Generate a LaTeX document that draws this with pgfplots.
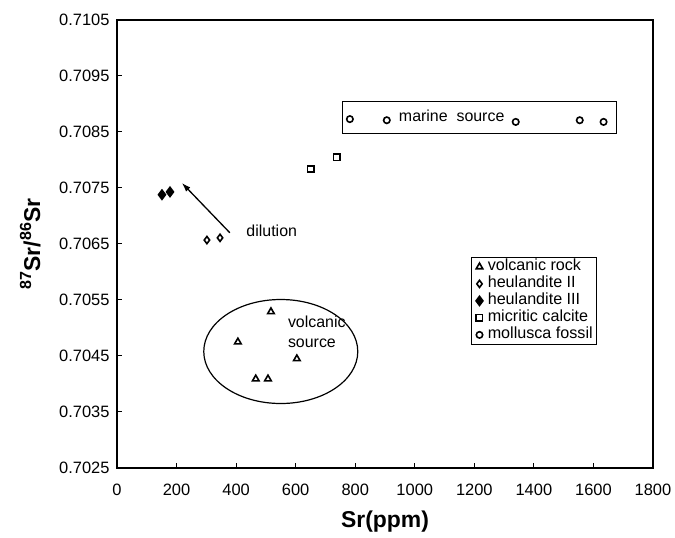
\documentclass[border=0pt]{standalone}
\usepackage{fontspec}
\setmainfont{Liberation Sans}
\usepackage{pgfplots}
\pgfplotsset{compat=1.18}
\usetikzlibrary{calc,arrows.meta}

\begin{document}
\begin{tikzpicture}
\begin{axis}[
    scale only axis,
    width=536bp, height=448bp,
    xmin=0, xmax=1800,
    ymin=0.7025, ymax=0.7105,
    xtick={0,200,...,1800},
    ytick={0.7025,0.7035,0.7045,0.7055,0.7065,0.7075,0.7085,0.7095,0.7105},
    scaled y ticks=false,
    tick align=inside,
    xtick pos=left, ytick pos=left,
    major tick length=5bp,
    tick style={line width=1bp, black},
    axis line style={line width=1.5bp},
    /pgf/number format/assume math mode=true,
    ticklabel style={font=\fontsize{16.5}{19}\selectfont},
    y tick label style={/pgf/number format/fixed, /pgf/number format/fixed zerofill,
        /pgf/number format/precision=4, xshift=-4bp},
    x tick label style={/pgf/number format/1000 sep={}, yshift=-13bp},
    xlabel={Sr(ppm)},
    ylabel={\textsuperscript{87}Sr/\textsuperscript{86}Sr},
    xlabel style={font=\fontsize{23}{27}\selectfont\bfseries,
        at={(axis description cs:0.5,-0.1205)}, anchor=center},
    ylabel style={font=\fontsize{23}{27}\selectfont\bfseries,
        at={(axis description cs:-0.162,0.5)}, anchor=center},
    legend style={at={(rel axis cs:0.661,0.471)}, anchor=north west,
        draw=black, line width=0.8bp,
        font=\fontsize{16.2}{17}\selectfont,
        inner xsep=2bp, inner ysep=1bp, row sep=0bp, column sep=2bp,
        nodes={inner sep=1.5bp, text height=11bp, text depth=3bp}},
    legend cell align=left,
    legend image code/.code={\draw[#1] plot coordinates {(5bp,0bp)}; \path (0bp,0bp) (9bp,0bp);},
    every axis plot/.append style={only marks, line width=1.6bp, mark options={solid, black}},
]
% volcanic rock
\addplot[mark=triangle, mark size=3.8bp] coordinates {
    (406,0.70475) (466,0.70409) (507,0.70409) (517,0.70529) (604,0.70445)
};
\addlegendentry{volcanic rock}
% heulandite II
\addplot[mark=diamond, mark size=3.6bp] coordinates {
    (302,0.70657) (346,0.70661)
};
\addlegendentry{heulandite II}
% heulandite III
\addplot[mark=diamond*, mark size=4.6bp, mark options={fill=black}] coordinates {
    (151,0.70738) (178,0.70743)
};
\addlegendentry{heulandite III}
% micritic calcite
\addplot[mark=square, mark size=3.2bp] coordinates {
    (651,0.70784) (738,0.70805)
};
\addlegendentry{micritic calcite}
% mollusca fossil
\addplot[mark=o, mark size=3.2bp] coordinates {
    (782,0.70873) (906,0.70871) (1339,0.70868) (1554,0.70871) (1634,0.70868)
};
\addlegendentry{mollusca fossil}

\draw[line width=1.2bp] (axis cs:758,0.70848) rectangle (axis cs:1678,0.70904);
\draw[line width=1.2bp] (axis cs:550,0.70458) ellipse [x radius=77bp, y radius=52bp];
\draw[line width=1.3bp, -{Latex[length=9bp,width=6bp]}] (axis cs:379,0.70670) -- (axis cs:218,0.70759);

\node[anchor=west, font=\fontsize{16}{19}\selectfont] at (axis cs:423,0.70673) {dilution};
\node[font=\fontsize{16}{19}\selectfont] at (axis cs:1124,0.70879) {marine\ \ source};
\node[align=left, font=\fontsize{16}{20}\selectfont] at (axis cs:671,0.70493) {volcanic\\source};

\coordinate (ll) at (rel axis cs:0,0);
\coordinate (ur) at (rel axis cs:1,1);
\end{axis}
\pgfresetboundingbox
\useasboundingbox ($(ll)+(-117bp,-70bp)$) rectangle ($(ur)+(22bp,20bp)$);
\end{tikzpicture}
\end{document}
